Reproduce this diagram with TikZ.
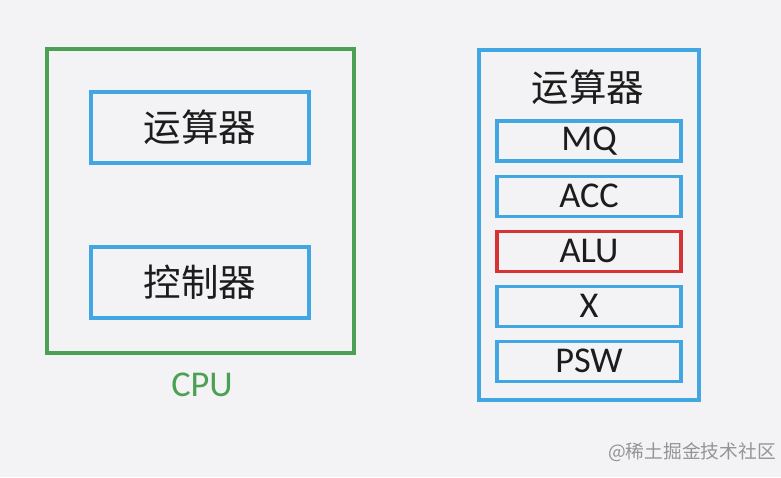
\documentclass[tikz,border=0pt]{standalone}
\usepackage{fontspec}
\setmainfont{Carlito}
\newfontfamily\cjk{Noto Sans CJK SC}
\usepackage{xcolor}
\usetikzlibrary{positioning}

\definecolor{cpugreen}{RGB}{76,160,84}
\definecolor{regblue}{RGB}{66,166,226}
\definecolor{alured}{RGB}{214,52,52}
\definecolor{paper}{RGB}{243,243,245}
\definecolor{ink}{RGB}{28,28,28}

\begin{document}
\begin{tikzpicture}[
        node distance=0.36cm,
        box/.style={rectangle, draw=regblue, line width=2.6pt, fill=paper, text=ink},
        cjkbox/.style={box, minimum width=6.54cm, minimum height=2.13cm, font=\cjk\fontsize{32}{36}\selectfont},
        regbox/.style={box, minimum width=5.52cm, minimum height=1.2cm, inner sep=0pt, font=\fontsize{31}{34}\selectfont}
    ]
        \fill[paper] (0,0) rectangle (23.43,-14.31);
        \useasboundingbox (0,0) rectangle (23.43,-14.31);
        % left: cpu
        \node[rectangle, draw=cpugreen, line width=2.6pt, minimum width=9.21cm, minimum height=9.12cm] (cpu) at (6.015,-6.03) {};
        \node[cjkbox] (calc) at (6.0,-3.825) {运算器};
        \node[cjkbox] (ctrl) at (6.0,-8.475) {控制器};
        \node[text=cpugreen, font=\fontsize{31}{34}\selectfont] (cpulabel) at (6.06,-11.55) {CPU};
        % right: inside the alu unit
        \node[box, minimum width=6.6cm, minimum height=10.5cm] (unit) at (17.67,-6.75) {};
        \node[text=ink, font=\cjk\fontsize{32}{36}\selectfont] (title) at (17.64,-2.61) {运算器};
        \node[regbox] (mq) at (17.67,-4.23) {MQ};
        \node[regbox, below=of mq] (acc) {ACC};
        \node[regbox, draw=alured, below=of acc] (alu) {ALU};
        \node[regbox, below=of alu] (x) {X};
        \node[regbox, below=of x] (psw) {PSW};
        % watermark
        \node[text=black!42, font=\cjk\fontsize{16}{18}\selectfont] (mark) at (20.76,-13.56) {@稀土掘金技术社区};
    \end{tikzpicture}
\end{document}
